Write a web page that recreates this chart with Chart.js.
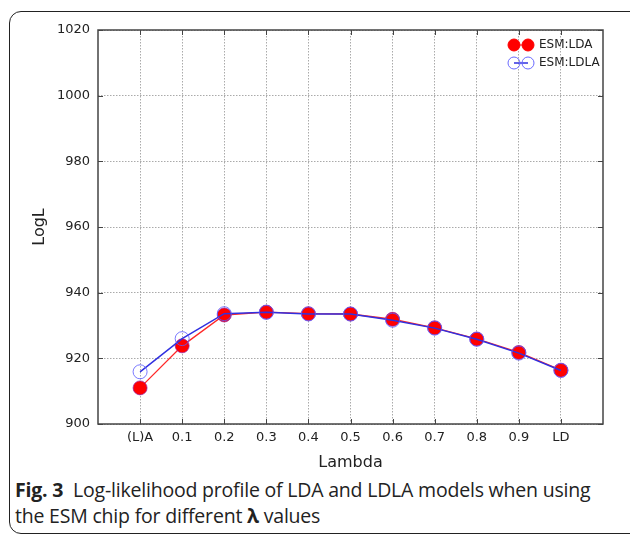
<!DOCTYPE html>
<html lang="en">
<head>
    <meta charset="UTF-8">
    <title>Log-likelihood profile</title>
    <script src="https://cdn.jsdelivr.net/npm/chart.js"></script>
    <style>
        body {
            margin: 0;
            background: #ffffff;
            width: 630px;
            height: 535px;
            position: relative;
            overflow: hidden;
        }
        .frame {
            position: absolute;
            left: 9px;
            top: 11px;
            width: 640px;
            height: 521px;
            border: 1px solid #222;
            border-radius: 12px;
        }
        .chart-box {
            position: absolute;
            left: 0;
            top: 0;
            width: 630px;
            height: 475px;
        }
        .caption {
            position: absolute;
            left: 15px;
            top: 477px;
            font-family: 'Open Sans', 'Noto Sans', sans-serif;
            font-size: 19.5px;
            line-height: 26px;
            color: #222;
            letter-spacing: -0.2px;
        }
        .caption b {
            font-weight: 700;
        }
    </style>
</head>
<body>
    <div class="frame"></div>
    <div class="chart-box">
        <canvas id="chart" width="630" height="475"></canvas>
    </div>
    <div class="caption"><b>Fig. 3</b>&nbsp; Log-likelihood profile of LDA and LDLA models when using<br>the ESM chip for different <b>λ</b> values</div>
    <script>
        const lambdaLabels = ['(L)A', '0.1', '0.2', '0.3', '0.4', '0.5', '0.6', '0.7', '0.8', '0.9', 'LD'];
        const ldaValues = [911.0, 923.8, 933.2, 934.1, 933.6, 933.5, 931.9, 929.3, 925.9, 921.8, 916.4];
        const ldlaValues = [915.9, 926.0, 933.6, 934.0, 933.5, 933.5, 931.6, 929.2, 925.8, 921.6, 916.3];
        const yTicks = [900, 920, 940, 960, 980, 1000, 1020];

        const toPoints = vals => vals.map((v, i) => ({ x: i, y: v }));

        // matplotlib-like frame with inward ticks, plus the two-marker legend
        const framePlugin = {
            id: 'frame',
            afterDraw(chart) {
                const { ctx, chartArea: a, scales } = chart;
                ctx.save();
                ctx.strokeStyle = '#444';
                ctx.lineWidth = 1.5;
                ctx.strokeRect(a.left, a.top, a.right - a.left, a.bottom - a.top);
                ctx.lineWidth = 1;
                for (let i = 0; i < lambdaLabels.length; i++) {
                    const x = Math.round(scales.x.getPixelForValue(i)) + 0.5;
                    ctx.beginPath();
                    ctx.moveTo(x, a.top); ctx.lineTo(x, a.top + 5);
                    ctx.moveTo(x, a.bottom); ctx.lineTo(x, a.bottom - 5);
                    ctx.stroke();
                }
                yTicks.forEach(t => {
                    const y = Math.round(scales.y.getPixelForValue(t)) + 0.5;
                    ctx.beginPath();
                    ctx.moveTo(a.left, y); ctx.lineTo(a.left + 5, y);
                    ctx.moveTo(a.right, y); ctx.lineTo(a.right - 5, y);
                    ctx.stroke();
                });

                // legend
                const lx1 = a.right - 89, lx2 = a.right - 75;
                const rows = [
                    { y: a.top + 15, text: 'ESM:LDA', line: '#ff2020', fill: '#ff0000', edge: '#ff0000', lw: 1 },
                    { y: a.top + 33, text: 'ESM:LDLA', line: '#3030e0', fill: null, edge: '#6a6aff', lw: 1.5 }
                ];
                rows.forEach(r => {
                    ctx.strokeStyle = r.line;
                    ctx.lineWidth = r.lw;
                    ctx.beginPath();
                    ctx.moveTo(lx1, r.y); ctx.lineTo(lx2, r.y);
                    ctx.stroke();
                    [lx1, lx2].forEach(x => {
                        ctx.beginPath();
                        ctx.arc(x, r.y, 6, 0, Math.PI * 2);
                        if (r.fill) { ctx.fillStyle = r.fill; ctx.fill(); }
                        ctx.strokeStyle = r.edge;
                        ctx.lineWidth = 1;
                        ctx.stroke();
                    });
                    ctx.fillStyle = '#222';
                    ctx.font = '12px "DejaVu Sans", sans-serif';
                    ctx.textBaseline = 'middle';
                    ctx.fillText(r.text, lx2 + 11, r.y);
                });
                ctx.restore();
            }
        };

        new Chart(document.getElementById('chart'), {
            type: 'line',
            data: {
                datasets: [
                    {
                        label: 'ESM:LDA',
                        data: toPoints(ldaValues),
                        borderColor: '#ff2828',
                        borderWidth: 1.3,
                        pointRadius: 7,
                        pointBackgroundColor: '#ff0000',
                        pointBorderColor: 'rgba(150, 30, 160, 0.7)',
                        pointBorderWidth: 1,
                        order: 2
                    },
                    {
                        label: 'ESM:LDLA',
                        data: toPoints(ldlaValues),
                        borderColor: '#3030e0',
                        borderWidth: 1.5,
                        pointRadius: 7,
                        pointBackgroundColor: 'rgba(0,0,0,0)',
                        pointBorderColor: 'rgba(90, 90, 255, 0.8)',
                        pointBorderWidth: 1,
                        order: 1
                    }
                ]
            },
            options: {
                responsive: false,
                animation: false,
                layout: { padding: { left: 0, right: 27, top: 30, bottom: 0 } },
                plugins: {
                    legend: { display: false },
                    tooltip: { enabled: false }
                },
                scales: {
                    x: {
                        type: 'linear',
                        min: -1,
                        max: 11,
                        afterFit: s => { s.height = 51; },
                        afterBuildTicks: s => { s.ticks = lambdaLabels.map((_, i) => ({ value: i })); },
                        ticks: {
                            callback: v => lambdaLabels[v] ?? '',
                            autoSkip: false,
                            maxRotation: 0,
                            padding: 6,
                            color: '#222',
                            font: { family: 'DejaVu Sans', size: 13 }
                        },
                        grid: {
                            color: '#aaa',
                            lineWidth: 1,
                            drawTicks: false
                        },
                        border: { display: false, dash: [1.5, 1.5] },
                        title: {
                            display: true,
                            text: 'Lambda',
                            color: '#222',
                            font: { family: 'DejaVu Sans', size: 16 },
                            padding: { top: 0, bottom: 3 }
                        }
                    },
                    y: {
                        min: 900,
                        max: 1020,
                        afterFit: s => { s.width = 98; },
                        afterBuildTicks: s => { s.ticks = yTicks.map(v => ({ value: v })); },
                        ticks: {
                            callback: v => String(v),
                            padding: 8,
                            color: '#222',
                            font: { family: 'DejaVu Sans', size: 13 }
                        },
                        grid: {
                            color: '#aaa',
                            lineWidth: 1,
                            drawTicks: false
                        },
                        border: { display: false, dash: [1.5, 1.5] },
                        title: {
                            display: true,
                            text: 'LogL',
                            color: '#222',
                            font: { family: 'DejaVu Sans', size: 16 },
                            padding: { top: 30, bottom: 0 }
                        }
                    }
                }
            },
            plugins: [framePlugin]
        });
    </script>
</body>
</html>
